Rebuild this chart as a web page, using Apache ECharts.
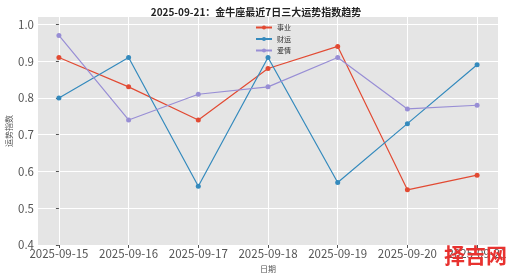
<!DOCTYPE html>
<html><head><meta charset="utf-8">
<script src="https://cdn.jsdelivr.net/npm/echarts@6/dist/echarts.min.js"></script>
<style>html,body{margin:0;padding:0;background:#fff}#c{width:512px;height:275px}</style>
</head><body><div id="c"></div>
<script>
const dates = ['2025-09-15','2025-09-16','2025-09-17','2025-09-18','2025-09-19','2025-09-20','2025-09-21'];
const career = [0.91, 0.83, 0.74, 0.88, 0.94, 0.55, 0.59];
const wealth = [0.80, 0.91, 0.56, 0.91, 0.57, 0.73, 0.89];
const love = [0.97, 0.74, 0.81, 0.83, 0.91, 0.77, 0.78];
const yTicks = [0.4, 0.5, 0.6, 0.7, 0.8, 0.9, 1.0];
const font = '"Noto Sans CJK SC", sans-serif';
const idx = dates.map((d, i) => i);
function mk(name, vals, color) {
  return {
    name, type: 'line', data: vals.map((v, i) => [i, v]),
    symbol: 'circle', symbolSize: 5,
    lineStyle: { color, width: 1.2 }, itemStyle: { color },
    z: 3
  };
}
const chart = echarts.init(document.getElementById('c'));
chart.setOption({
  animation: false,
  title: { text: '2025-09-21：金牛座最近7日三大运势指数趋势', left: 'center', top: 2,
    textStyle: { fontFamily: font, fontSize: 10, fontWeight: 'bold', color: '#222' } },
  legend: { orient: 'vertical', left: 250, top: 19, itemWidth: 16, itemHeight: 5, itemGap: 4.5,
    textStyle: { fontFamily: font, fontSize: 7, color: '#333' },
    data: ['事业','财运','爱情'] },
  grid: { left: 38, right: 14, top: 17, bottom: 30, show: true, backgroundColor: '#E5E5E5', borderWidth: 0,
    outerBoundsMode: 'none', containLabel: false },
  xAxis: {
    type: 'value', min: -0.3, max: 6.3,
    name: '日期', nameLocation: 'middle', nameGap: 20, nameMoveOverlap: false,
    nameTextStyle: { fontFamily: font, fontSize: 8, color: '#555' },
    axisLine: { show: false },
    axisTick: { show: true, customValues: idx, length: 3, lineStyle: { color: '#555' } },
    axisLabel: { customValues: idx, formatter: v => dates[Math.round(v)], fontFamily: font, fontSize: 11.5, color: '#555', margin: 3 },
    splitLine: { show: true, lineStyle: { color: '#fff', width: 1 } }
  },
  yAxis: {
    type: 'value', min: 0.4, max: 1.02,
    name: '运势指数', nameLocation: 'middle', nameGap: 25, nameRotate: 90, nameMoveOverlap: false,
    nameTextStyle: { fontFamily: font, fontSize: 8, color: '#555' },
    axisLine: { show: false },
    axisTick: { show: true, customValues: yTicks, length: 3, lineStyle: { color: '#555' } },
    axisLabel: { customValues: yTicks, formatter: v => v.toFixed(1), fontFamily: font, fontSize: 11.5, color: '#555', margin: 4 },
    splitLine: { show: true, lineStyle: { color: '#fff', width: 1 } }
  },
  series: [ mk('事业', career, '#E24A33'), mk('财运', wealth, '#348ABD'), mk('爱情', love, '#988ED5') ],
  graphic: [{ type: 'text', left: 444, top: 245, z: 100,
    style: { text: '择吉网', fontFamily: font, fontSize: 21, fontWeight: 'bold', fill: '#E8322F' } }]
});
</script></body></html>
